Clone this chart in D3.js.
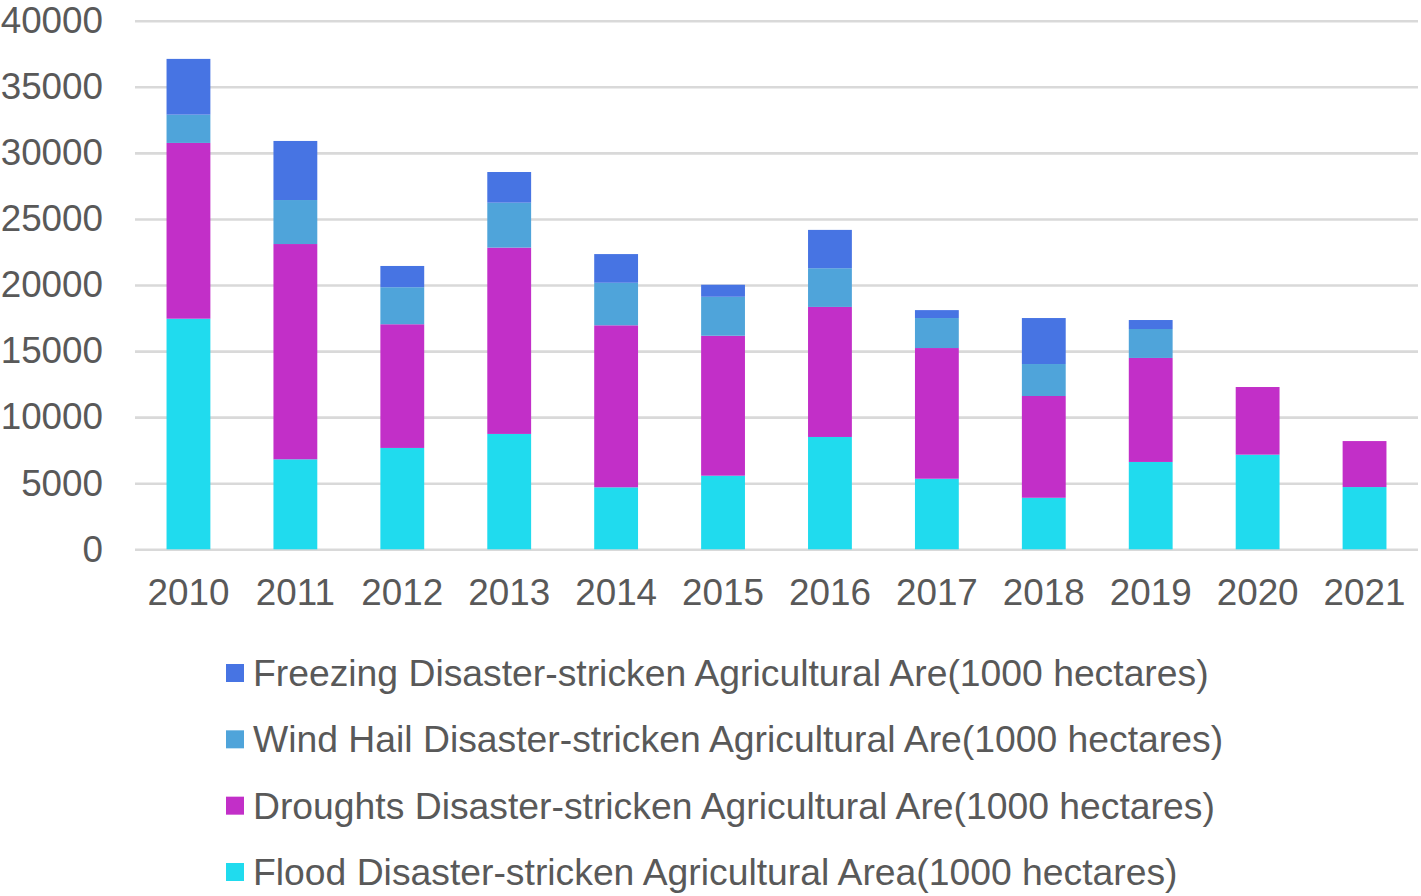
<!DOCTYPE html>
<html>
<head>
<meta charset="utf-8">
<script src="https://cdn.jsdelivr.net/npm/d3@7"></script>
<style>
  html, body { margin: 0; padding: 0; background: #fff; }
  svg { display: block; }
  text { font-family: "Liberation Sans", Arial, sans-serif; fill: #595959; }
</style>
</head>
<body>
<svg id="chart" width="1421" height="896"></svg>
<script>
const years = ["2010","2011","2012","2013","2014","2015","2016","2017","2018","2019","2020","2021"];
const flood    = [17450, 6810, 7670, 8730, 4690, 5570, 8500, 5340, 3900, 6610, 7160, 4710];
const droughts = [13300, 16290, 9360, 14100, 12260, 10590, 9840, 9890, 7700, 7870, 5120, 3480];
const windHail = [2140, 3330, 2800, 3400, 3220, 2950, 2930, 2270, 2420, 2190, 0, 0];
const freezing = [4220, 4470, 1610, 2320, 2170, 910, 2900, 600, 3480, 680, 0, 0];
const yTicks = [0, 5000, 10000, 15000, 20000, 25000, 30000, 35000, 40000];

const seriesKeys = ["flood", "droughts", "windHail", "freezing"];
const seriesNames = {
  freezing: "Freezing Disaster-stricken Agricultural Are(1000 hectares)",
  windHail: "Wind Hail Disaster-stricken Agricultural Are(1000 hectares)",
  droughts: "Droughts Disaster-stricken Agricultural Are(1000 hectares)",
  flood: "Flood Disaster-stricken Agricultural Area(1000 hectares)"
};
const colors = { freezing: "#4774E3", windHail: "#4FA4DA", droughts: "#C22FC8", flood: "#20DBEE" };
const legendOrder = ["freezing", "windHail", "droughts", "flood"];

const table = years.map((y, i) => ({
  year: y, flood: flood[i], droughts: droughts[i], windHail: windHail[i], freezing: freezing[i]
}));

const svg = d3.select("#chart");
const plotLeft = 135, plotRight = 1418, plotTop = 20.7, plotBottom = 549.3;

const x = d3.scaleBand().domain(years).range([plotLeft, plotRight]).paddingInner(0.59).paddingOuter(0.295);
const y = d3.scaleLinear().domain([0, 40000]).range([plotBottom, plotTop]);

// Y axis with gridlines
const yAxis = svg.append("g")
  .attr("transform", `translate(${plotLeft},0)`)
  .call(d3.axisLeft(y).tickValues(yTicks).tickFormat(d3.format("d"))
    .tickSizeInner(-(plotRight - plotLeft)).tickSizeOuter(0).tickPadding(32));
yAxis.select(".domain").remove();
yAxis.selectAll(".tick line").attr("stroke", "#D9D9D9").attr("stroke-width", 2.6);
yAxis.selectAll(".tick text").style("font-size", "36.8px").attr("fill", "#595959")
  .style("font-family", '"Liberation Sans", Arial, sans-serif');

// Stacked bars
const stack = d3.stack().keys(seriesKeys);
const stacked = stack(table);
svg.append("g").selectAll("g")
  .data(stacked)
  .join("g")
  .attr("fill", d => colors[d.key])
  .selectAll("rect")
  .data(d => d)
  .join("rect")
  .attr("x", d => x(d.data.year))
  .attr("width", x.bandwidth())
  .attr("y", d => y(d[1]))
  .attr("height", d => Math.max(0, y(d[0]) - y(d[1])));

// X axis
const xAxis = svg.append("g")
  .attr("transform", `translate(0,${plotBottom})`)
  .call(d3.axisBottom(x).tickSize(0).tickPadding(30));
xAxis.select(".domain").remove();
xAxis.selectAll(".tick text").style("font-size", "36.8px").attr("fill", "#595959")
  .style("font-family", '"Liberation Sans", Arial, sans-serif');

// Legend
const legendY = d3.scalePoint().domain(legendOrder).range([673, 872]);
const legend = svg.append("g");
const items = legend.selectAll("g").data(legendOrder).join("g")
  .attr("transform", d => `translate(226,${legendY(d)})`);
items.append("rect").attr("x", 0).attr("y", -9).attr("width", 18).attr("height", 18)
  .attr("fill", d => colors[d]);
items.append("text").attr("x", 27).attr("dy", "0.35em")
  .style("font-size", "37.3px")
  .text(d => seriesNames[d]);
</script>
</body>
</html>
